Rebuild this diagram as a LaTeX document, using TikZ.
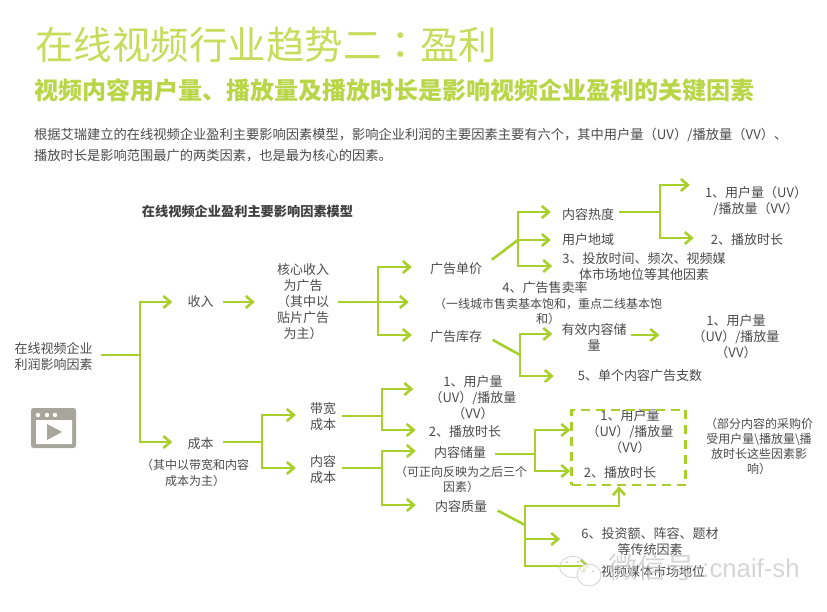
\documentclass[tikz,border=0pt]{standalone}
\usepackage{fontspec}
\setmainfont{Noto Sans CJK SC}
\newfontfamily\wmfont{Liberation Sans}
\newfontfamily\tcfont{Noto Sans CJK TC}
\usetikzlibrary{arrows.meta,calc}
\definecolor{lime}{HTML}{A9CF2D}
\definecolor{titlegreen}{HTML}{C6DC5C}
\definecolor{subgreen}{HTML}{B9D548}
\definecolor{ink}{HTML}{4A4A4A}
\definecolor{icongray}{HTML}{A8A69C}
\newcommand{\fs}[2]{\fontsize{#1}{#2}\selectfont}
\tikzset{
  x=1pt,y=-1pt,
  lbl/.style={inner sep=0pt,align=center,text=ink,font=\fs{13}{16},yshift=-1pt},
  small/.style={inner sep=0pt,align=center,text=ink,font=\fs{12}{15},yshift=-1pt},
  lnk/.style={draw=lime,line width=2.6pt,line join=miter},
  arr/.style={lnk,-{Straight Barb[length=7pt,width=12pt]}},
}
\begin{document}
\begin{tikzpicture}
\useasboundingbox (0,0) rectangle (827,611);
% headings
\node[anchor=west,inner sep=0pt,text=titlegreen,font=\fs{38.5}{46}] (title) at (35,45) {在线视频行业趋势二{\tcfont ：}盈利};
\node[anchor=west,inner sep=0pt,text=subgreen,font=\fs{24}{28}\bfseries] (sub) at (34,90) {视频内容用户量、播放量及播放时长是影响视频企业盈利的关键因素};
\node[anchor=north west,inner sep=0pt,align=left,text=ink,font=\fs{13.25}{21}] (intro) at (34,127.5) {根据艾瑞建立的在线视频企业盈利主要影响因素模型，影响企业利润的主要因素主要有六个，其中用户量（UV）/播放量（VV）、\\播放时长是影响范围最广的两类因素，也是最为核心的因素。};
\node[inner sep=0pt,text=ink!85!black,font=\fs{13.2}{16}\bfseries] (model) at (247.5,211) {在线视频企业盈利主要影响因素模型};
% icon
\node[draw=none,fill=icongray,rounded corners=2.5pt,minimum width=45pt,minimum height=40pt,inner sep=0pt] (icon) at (53.5,428) {};
\foreach \px in {38,47,55} \fill[white] (\px,415) circle (2.2pt);
\fill[white,rounded corners=0.5pt] (36,420) rectangle (72,444);
\fill[icongray] (47,424) -- (47,440) -- (62,432) -- cycle;
% nodes
\node[lbl] (root) at (53.5,356) {在线视频企业\\利润影响因素};
\node[lbl] (income) at (200.5,301) {收入};
\node[lbl] (core) at (303,301) {核心收入\\为广告\\（其中以\\贴片广告\\为主）};
\node[lbl] (price) at (456,268) {广告单价};
\node[lbl] (rate) at (545,287) {4、广告售卖率};
\node[small] (rateb) at (548,310) {（一线城市售卖基本饱和，重点二线基本饱\\和）};
\node[lbl] (stock) at (456,336) {广告库存};
\node[lbl] (heat) at (588,214) {内容热度};
\node[lbl] (region) at (588,239) {用户地域};
\node[lbl] (other) at (644,266) {3、投放时间、频次、视频媒\\体市场地位等其他因素};
\node[lbl] (uv1) at (756,200) {1、用户量（UV）\\/播放量（VV）};
\node[lbl] (dur1) at (747,239) {2、播放时长};
\node[lbl] (valid) at (594,336) {有效内容储\\量};
\node[lbl] (uv2) at (736,336) {1、用户量\\（UV）/播放量\\（VV）};
\node[lbl] (ads) at (640,375) {5、单个内容广告支数};
\node[lbl] (cost) at (200.5,443) {成本};
\node[small,font=\fs{12}{16}] (costb) at (195,472) {（其中以带宽和内容\\成本为主）};
\node[lbl] (band) at (323,416) {带宽\\成本};
\node[lbl] (content) at (323,469) {内容\\成本};
\node[lbl] (uv3) at (473,397) {1、用户量\\（UV）/播放量\\（VV）};
\node[lbl] (dur3) at (465,431) {2、播放时长};
\node[lbl] (store) at (460,452) {内容储量};
\node[small] (storeb) at (461,478.5) {（可正向反映为之后三个\\因素）};
\node[lbl] (quality) at (461,506) {内容质量};
\node[lbl] (uv4) at (630,431) {1、用户量\\（UV）/播放量\\（VV）};
\node[lbl] (dur4) at (620,472) {2、播放时长};
\node[small] (note) at (759,445) {（部分内容的采购价\\受用户量\textbackslash 播放量\textbackslash 播\\放时长这些因素影\\响）};
\node[lbl] (six) at (650,541) {6、投资额、阵容、题材\\等传统因素};
\node[lbl] (media) at (653,571) {视频媒体市场地位};
% dashed box
\node[draw=lime,line width=2.4pt,dash pattern=on 9pt off 6pt,minimum width=114pt,minimum height=75pt,inner sep=0pt] (box) at (628.5,447.5) {};
% junctions
\coordinate (j0) at (140,355);
\coordinate (j0a) at (140,302);
\coordinate (j0b) at (140,442);
\coordinate (j1) at (378,302);
\coordinate (j1a) at (378,267);
\coordinate (j1b) at (378,335);
\coordinate (j2) at (518,240);
\coordinate (j2a) at (518,212);
\coordinate (j2b) at (518,266);
\coordinate (j3) at (660,212);
\coordinate (j3a) at (660,185);
\coordinate (j3b) at (660,238);
\coordinate (j4) at (520,355);
\coordinate (j4a) at (520,334);
\coordinate (j4b) at (520,376);
\coordinate (j5) at (262,442);
\coordinate (j5a) at (262,415);
\coordinate (j5b) at (262,468);
\coordinate (j6) at (382,416);
\coordinate (j6a) at (382,389);
\coordinate (j6b) at (382,430);
\coordinate (j7) at (382,468);
\coordinate (j7a) at (382,451);
\coordinate (j7b) at (382,505);
\coordinate (j8) at (535,454);
\coordinate (j8a) at (535,430);
\coordinate (j8b) at (535,471);
\coordinate (j9) at (525,525);
\coordinate (j9a) at (525,506);
\coordinate (j9b) at (525,539);
\coordinate (j9c) at (525,566);
\coordinate (j9d) at (619,506);
% connectors
\draw[lnk,shorten <=8pt] (root.east |- j0) -- (j0);
\draw[lnk,line cap=rect] (j0a) -- (j0b);
\draw[arr,shorten >=15pt] (j0a) -- (j0a -| income.west);
\draw[arr,shorten >=15pt] (j0b) -- (j0b -| cost.west);
\draw[arr,shorten <=9pt,shorten >=22pt] (income.east |- j0a) -- (j0a -| core.west);
\draw[lnk,shorten <=9pt] (core.east |- j1) -- (j1);
\draw[lnk,line cap=rect] (j1a) -- (j1b);
\draw[arr,shorten >=18pt] (j1a) -- (j1a -| price.west);
\draw[arr,shorten >=25pt] (j1) -- (j1 -| rateb.west);
\draw[arr,shorten >=18pt] (j1b) -- (j1b -| stock.west);
\draw[lnk,shorten <=12pt] (price.east |- 0,267) -- (j2);
\draw[lnk,line cap=rect] (j2a) -- (j2b);
\draw[arr,shorten >=11pt] (j2a) -- (j2a -| heat.west);
\draw[arr,shorten >=11pt] (j2) -- (j2 -| region.west);
\draw[arr,shorten >=10pt] (j2b) -- (j2b -| other.west);
\draw[lnk,shorten <=5pt] (heat.east |- j3) -- (j3);
\draw[lnk,line cap=rect] (j3a) -- (j3b);
\draw[arr,shorten >=15pt] (j3a) -- (j3a -| uv1.west);
\draw[arr,shorten >=17pt] (j3b) -- (j3b -| dur1.west);
\draw[lnk,shorten <=12pt] (stock.east |- 0,334) -- (j4);
\draw[lnk,line cap=rect] (j4a) -- (j4b);
\draw[arr,shorten >=9pt] (j4a) -- (j4a -| valid.west);
\draw[arr,shorten >=24pt] (j4b) -- (j4b -| ads.west);
\draw[arr,shorten <=4pt,shorten >=33pt] (valid.east |- 0,335) -- (uv2.west |- 0,335);
\draw[lnk,shorten <=9pt] (cost.east |- j5) -- (j5);
\draw[lnk,line cap=rect] (j5a) -- (j5b);
\draw[arr,shorten >=14pt] (j5a) -- (j5a -| band.west);
\draw[arr,shorten >=14pt] (j5b) -- (j5b -| content.west);
\draw[lnk,shorten <=6pt] (band.east |- j6) -- (j6);
\draw[lnk,line cap=rect] (j6a) -- (j6b);
\draw[arr,shorten >=16pt] (j6a) -- (j6a -| uv3.west);
\draw[arr,shorten >=13pt] (j6b) -- (j6b -| dur3.west);
\draw[lnk,shorten <=6pt] (content.east |- j7) -- (j7);
\draw[lnk,line cap=rect] (j7a) -- (j7b);
\draw[arr,shorten >=18pt] (j7a) -- (j7a -| store.west);
\draw[arr,shorten >=19pt] (j7b) -- (j7b -| quality.west);
\draw[lnk,shorten <=9pt] (store.east |- j8) -- (j8);
\draw[lnk,line cap=rect] (j8a) -- (j8b);
\draw[arr] (j8a) -- (j8a -| box.west);
\draw[arr] (j8b) -- (j8b -| box.west);
\draw[lnk,shorten <=12pt] (quality.east |- 0,505) -- (j9);
\draw[lnk,line cap=rect] (j9a) -- (j9c);
\draw[arr] (j9a) -- (j9d) -- (j9d |- box.south);
\draw[arr,shorten >=21pt] (j9b) -- (j9b -| six.west);
\draw[arr,shorten >=11pt] (j9c) -- (j9c -| media.west);
% watermark
\begin{scope}[gray!40,line width=0.9pt,opacity=.8]
\draw (573,567) ellipse (13.5pt and 10.5pt);
\draw[fill=white] (589,575) ellipse (12pt and 11pt);
\fill (567,562) circle (1.4pt) (578,562) circle (1.4pt) (584,571) circle (1.2pt) (593,571) circle (1.2pt);
\node[inner sep=0pt,anchor=west,text=gray!40,font=\fs{29}{32}] (wm) at (608,568) {微信号};
\node[inner sep=0pt,anchor=west,text=gray!40,font=\wmfont\fs{25.7}{28}] (wmb) at (702,568) {:cnaif-sh};
\end{scope}
\end{tikzpicture}
\end{document}
